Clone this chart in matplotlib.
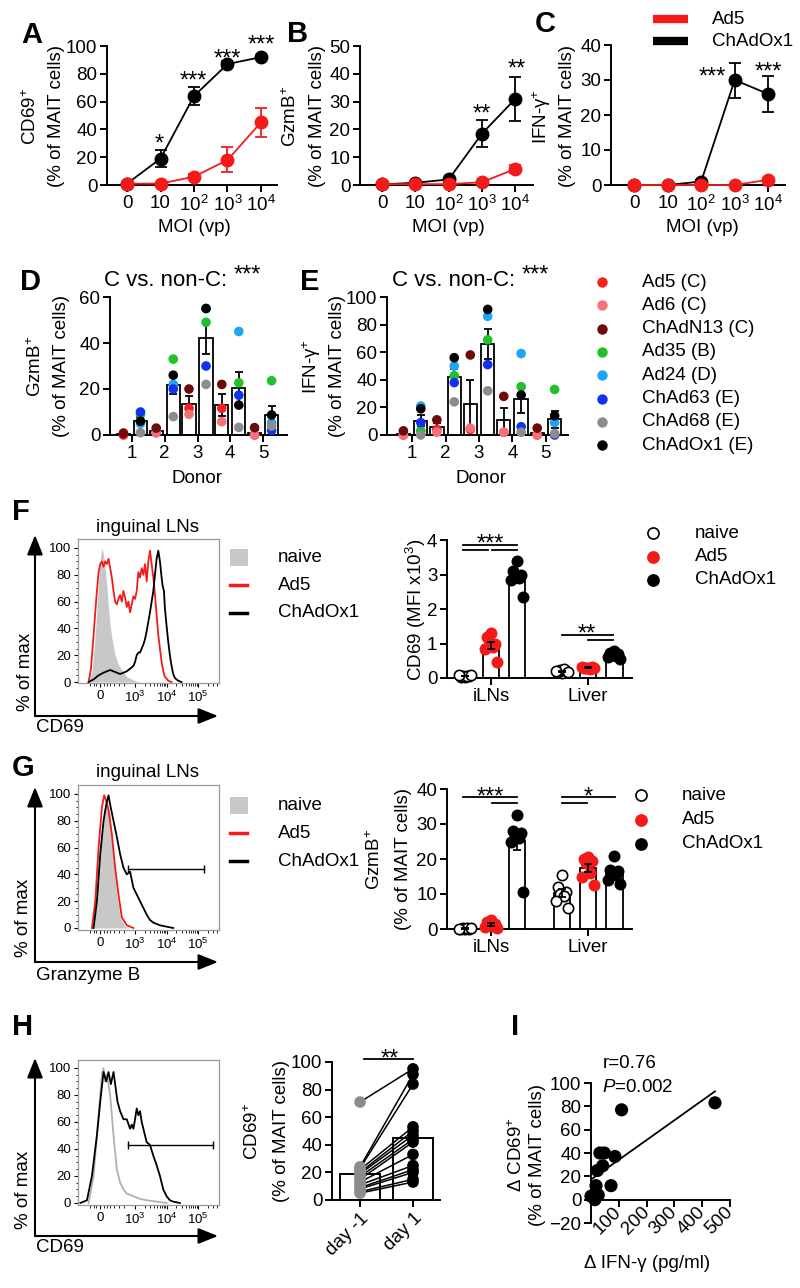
import numpy as np
import matplotlib
matplotlib.use('Agg')
import matplotlib.pyplot as plt
from matplotlib.patches import FancyArrowPatch, Rectangle
from matplotlib.lines import Line2D

plt.rcParams['font.family'] = ['Liberation Sans', 'DejaVu Sans']
plt.rcParams['mathtext.fontset'] = 'custom'
plt.rcParams['mathtext.rm'] = 'Liberation Sans'
plt.rcParams['mathtext.it'] = 'Liberation Sans:italic'
plt.rcParams['mathtext.default'] = 'regular'

RED = '#f51a1a'
FS = 13.5
STAR = 17

# ---- A-C: MOI titration ----
moi_labels = ['0', '10', '$10^2$', '$10^3$', '$10^4$']
cd69_ad5 = [1, 1, 6, 18, 45]
cd69_ad5_err = [0.5, 0.5, 2, 9, 10.5]
cd69_chad = [1, 19, 64, 87, 92]
cd69_chad_err = [0.5, 6, 6.5, 2, 1.5]
gzmb_ad5 = [0.3, 0.3, 0.3, 1, 5.8]
gzmb_ad5_err = [0, 0, 0, 0.3, 1.5]
gzmb_chad = [0.2, 0.8, 2, 18.5, 31]
gzmb_chad_err = [0.1, 0.3, 0.5, 5, 8]
ifng_ad5 = [0, 0, 0, 0, 1.5]
ifng_ad5_err = [0, 0, 0, 0, 0.5]
ifng_chad = [0, 0, 1, 30, 26]
ifng_chad_err = [0, 0, 0.3, 5, 5.2]

# ---- D-E: viruses x donors ----
viruses = ['Ad5 (C)', 'Ad6 (C)', 'ChAdN13 (C)', 'Ad35 (B)', 'Ad24 (D)',
           'ChAd63 (E)', 'ChAd68 (E)', 'ChAdOx1 (E)']
virus_colors = ['#f52020', '#f4717c', '#6e0a0a', '#22c02a', '#1ea6f2',
                '#1232f0', '#8c8c8c', '#000000']
gzmb_donor = [[0, 1, 11.6, 11.6, 0],
              [1, 1, 9, 5.8, 0],
              [0.7, 3, 20, 22, 3.2],
              [9, 33, 49, 22.7, 23.6],
              [5, 22, 55, 45, 5.3],
              [10, 20, 30, 17.3, 2],
              [1, 8, 22, 3.3, 3.9],
              [6, 26, 55, 13, 8.7]]
ifng_donor = [[0, 4, 4, 2, 0],
              [0, 2, 5, 2, 0],
              [3, 11, 58, 28, 5],
              [3, 43, 69, 35, 33],
              [21, 50, 86, 59, 9],
              [9, 38, 51, 6, 0],
              [0, 24, 32, 2, 1],
              [19, 56, 91, 29, 14]]

# ---- F-G: mouse organs ----
cd69_iln = [[0.02, 0.04, 0.05, 0.06, 0.07, 0.08, 0.1],
            [1.3, 1.2, 1.0, 0.95, 0.9, 0.85, 0.45],
            [3.4, 3.1, 3.0, 2.95, 2.9, 2.85, 2.35]]
cd69_liver = [[0.15, 0.18, 0.2, 0.22, 0.25, 0.2, 0.17],
              [0.28, 0.3, 0.32, 0.3, 0.27, 0.33, 0.29],
              [0.78, 0.72, 0.7, 0.68, 0.65, 0.6, 0.55]]
gzmb_iln = [[0, 0, 0.1, 0.2, 0.3, 0.1, 0.2],
            [2.5, 2.0, 1.5, 1.2, 0.8, 0.6, 0.4],
            [32.5, 28, 27.5, 27, 26, 25, 10.5]]
gzmb_liver = [[15.5, 12, 10.5, 10, 9.5, 8, 6],
              [20.5, 20, 19.5, 19, 16, 15, 12.5],
              [21, 17, 16.5, 16, 15.5, 14, 13]]
groups3 = ['naive', 'Ad5', 'ChAdOx1']

# ---- histograms (channel on display scale, % of max) ----
hist_ticks = [67, 172, 267, 362]
hist_tick_labels = ['0', '$10^3$', '$10^4$', '$10^5$']
F_naive_ch = [32, 42, 52, 62, 67, 72, 77, 82, 87, 92, 97, 102, 112, 122, 132, 147, 167, 187]
F_naive_pct = [0, 8, 35, 75, 92, 100, 95, 85, 72, 55, 42, 33, 20, 13, 9, 4, 1.5, 0]
F_ad5_ch = [32, 39, 47, 55, 62, 67, 72, 77, 82, 87, 92, 97, 102, 107, 112, 117, 122, 127, 132, 137,
            142, 147, 152, 157, 162, 167, 172, 177, 182, 187, 192, 197, 202, 207, 212, 217, 222, 227,
            232, 237, 242, 247, 252, 257, 262, 272, 282]
F_ad5_pct = [0, 10, 35, 62, 82, 88, 90, 86, 90, 88, 92, 85, 78, 68, 60, 58, 62, 65, 60, 68,
             63, 56, 60, 52, 58, 64, 62, 68, 82, 78, 85, 80, 88, 75, 90, 98, 88, 78,
             65, 50, 35, 25, 15, 8, 4, 1, 0]
F_chad_ch = [32, 47, 62, 77, 87, 97, 107, 117, 127, 137, 147, 157, 167, 172, 177, 182, 187, 192, 197, 202,
             207, 212, 217, 222, 227, 232, 237, 242, 247, 252, 255, 259, 262, 267, 272, 277, 282, 287,
             292, 302, 312]
F_chad_pct = [0, 2, 5, 7, 8, 9, 8, 7, 6, 7, 8, 10, 12, 15, 20, 22, 22, 25, 28, 32,
              38, 45, 52, 60, 68, 80, 92, 98, 90, 78, 72, 68, 55, 42, 30, 20, 12, 6,
              3, 1, 0]
G_naive_ch = [47, 57, 67, 77, 87, 97, 107, 117, 127, 142, 157]
G_naive_pct = [0, 20, 60, 85, 95, 85, 55, 25, 8, 1, 0]
G_ad5_ch = [42, 52, 62, 72, 79, 85, 92, 102, 112, 122, 132, 147, 167]
G_ad5_pct = [0, 20, 60, 90, 99, 95, 88, 70, 45, 25, 8, 2, 0]
G_chad_ch = [47, 57, 67, 77, 85, 92, 97, 107, 117, 127, 137, 147, 157, 167, 177, 187, 197, 207,
             217, 227, 247, 267, 287]
G_chad_pct = [0, 20, 55, 80, 92, 99, 92, 80, 68, 55, 45, 40, 42, 30, 25, 20, 15, 10,
              6, 4, 2, 1, 0]
H_pre_ch = [32, 47, 57, 67, 72, 77, 82, 87, 97, 107, 117, 127, 137, 147, 167, 187, 207, 237, 267]
H_pre_pct = [0, 20, 50, 80, 95, 100, 90, 95, 80, 50, 25, 15, 10, 7, 5, 3, 2, 1, 0]
H_post_ch = [7, 27, 42, 57, 67, 77, 85, 92, 99, 107, 112, 119, 127, 137, 147, 157, 162, 167, 172, 177,
             182, 187, 192, 197, 207, 217, 227, 237, 247, 257, 267, 277, 287, 307]
H_post_pct = [0, 2, 20, 50, 75, 97, 90, 97, 88, 97, 88, 75, 68, 62, 62, 55, 58, 55, 62, 70,
              65, 68, 60, 55, 45, 43, 35, 28, 20, 10, 5, 2, 1, 0]
G_gate = (151, 380, 44)
H_gate = (151, 407, 43)

# ---- H-I: human challenge ----
cd69_day_m1 = [71, 24, 23, 22, 20, 19, 17, 15, 13, 11, 9, 8, 6, 5]
cd69_day_1 = [95, 91, 84, 53, 50, 47, 44, 42, 33, 25, 22, 20, 15, 13]
d_ifng = [446, 110, 32, 48, 86, 42, 23, 18, 72, 0, 26, 14]
d_cd69 = [83, 77, 40, 40, 37, 29, 25, 12, 12, 3, 4, 0]

W, H = 800, 1288
fig = plt.figure(figsize=(8, 12.88), dpi=100)


def axpx(l, t, r, b):
    return fig.add_axes([l / W, 1 - b / H, (r - l) / W, (b - t) / H])


def ftxt(x, y, s, **kw):
    kw.setdefault('fontsize', FS)
    return fig.text(x / W, 1 - y / H, s, **kw)


def clean(ax):
    ax.spines['top'].set_visible(False)
    ax.spines['right'].set_visible(False)
    for sp in ('left', 'bottom'):
        ax.spines[sp].set_linewidth(1.4)
    ax.tick_params(direction='out', length=5, width=1.4, labelsize=FS, pad=2)


def arrow(x1, y1, x2, y2):
    fig.add_artist(FancyArrowPatch((x1 / W, 1 - y1 / H), (x2 / W, 1 - y2 / H),
                                   transform=fig.transFigure,
                                   arrowstyle='-|>,head_length=0.75,head_width=0.3',
                                   mutation_scale=16, lw=1.5, color='k',
                                   shrinkA=0, shrinkB=0))


def ylab2(x1, x2, y, top, bottom):
    ftxt(x1, y, top, rotation=90, ha='center', va='center')
    ftxt(x2, y, bottom, rotation=90, ha='center', va='center')


# panel letters
for s, x, y in [('A', 21, 43), ('B', 287, 42), ('C', 535, 32), ('D', 20, 290),
                ('E', 300, 290), ('F', 12, 520), ('G', 12, 776), ('H', 12, 1035),
                ('I', 511, 1035)]:
    ftxt(x, y, s, fontsize=21, fontweight='bold', ha='left', va='baseline')


# ---------- A-C ----------
def moi_panel(ax, ad5, ad5_err, chad, chad_err, ymax, ystep, stars):
    x = np.arange(5)
    for y, e, c in ((chad, chad_err, 'k'), (ad5, ad5_err, RED)):
        ax.errorbar(x, y, yerr=e, fmt='none', ecolor=c, elinewidth=1.3,
                    capsize=4.5, capthick=1.3, zorder=2)
        ax.plot(x, y, '-o', color=c, lw=1.3, ms=9, clip_on=False, zorder=3)
    for s, sx, sy in stars:
        ax.text(sx, sy, s, ha='center', va='baseline', fontsize=STAR)
    ax.set_ylim(0, ymax)
    ax.set_yticks(np.arange(0, ymax + 1, ystep))
    ax.set_xticks(x)
    ax.set_xticklabels(moi_labels)
    clean(ax)


axA = axpx(107, 46, 277, 185)
axA.set_xlim(-0.6, 4.48)
moi_panel(axA, cd69_ad5, cd69_ad5_err, cd69_chad, cd69_chad_err, 100, 20,
          [('*', 0.96, 24.7), ('***', 1.97, 70.1), ('***', 3.0, 85.9), ('***', 4.0, 96.0)])
axB = axpx(360, 46, 533, 185)
axB.set_xlim(-0.66, 4.53)
moi_panel(axB, gzmb_ad5, gzmb_ad5_err, gzmb_chad, gzmb_chad_err, 50, 10,
          [('**', 3.0, 23.2), ('**', 4.03, 39.4)])
axC = axpx(611, 45, 785, 185)
axC.set_xlim(-0.69, 4.5)
moi_panel(axC, ifng_ad5, ifng_ad5_err, ifng_chad, ifng_chad_err, 40, 10,
          [('***', 2.33, 29.0), ('***', 4.0, 30.4)])

ylab2(31, 57, 116, 'CD69$^{+}$', '(% of MAIT cells)')
ylab2(291, 317, 116, 'GzmB$^{+}$', '(% of MAIT cells)')
ylab2(542, 568, 116, 'IFN-γ$^{+}$', '(% of MAIT cells)')
for x in (194, 448, 702):
    ftxt(x, 228, 'MOI (vp)', ha='center', va='center')

for c, lab, y in ((RED, 'Ad5', 19), ('k', 'ChAdOx1', 41)):
    fig.add_artist(Line2D([653 / W, 688 / W], [1 - y / H, 1 - y / H],
                          transform=fig.transFigure, color=c, lw=6, solid_capstyle='butt'))
    ftxt(712, y, lab, ha='left', va='center')


# ---------- D-E ----------
def donor_panel(ax, vals, ymax, ystep):
    vals = np.asarray(vals, float)
    for d in range(5):
        for idx, off in ((list(range(0, 3)), -0.26), (list(range(3, 8)), 0.26)):
            v = vals[idx, d]
            xp = d + 1 + off
            m = v.mean()
            sem = v.std(ddof=1) / np.sqrt(len(v))
            ax.bar(xp, m, width=0.4, facecolor='white', edgecolor='k', linewidth=1.3, zorder=1)
            ax.errorbar(xp, m, yerr=sem, fmt='none', ecolor='k', elinewidth=1.3,
                        capsize=3, capthick=1.3, zorder=2)
            ax.scatter(np.full(len(v), xp), v, c=[virus_colors[i] for i in idx], s=48,
                       edgecolors='none', zorder=3, clip_on=False)
    ax.set_ylim(0, ymax)
    ax.set_yticks(np.arange(0, ymax + 1, ystep))
    ax.set_xticks(range(1, 6))
    clean(ax)


axD = axpx(110, 297, 287, 435)
axD.set_xlim(0.33, 5.73)
donor_panel(axD, gzmb_donor, 60, 20)
axE = axpx(387, 297, 568, 435)
axE.set_xlim(0.25, 5.66)
donor_panel(axE, ifng_donor, 100, 20)
ylab2(36, 62, 366, 'GzmB$^{+}$', '(% of MAIT cells)')
ylab2(312, 338, 366, 'IFN-γ$^{+}$', '(% of MAIT cells)')
ftxt(197, 478, 'Donor', ha='center', va='center')
ftxt(481, 478, 'Donor', ha='center', va='center')
for x0 in (104, 392):
    t = ftxt(x0, 280, 'C vs. non-C:', ha='left', va='center', fontsize=16)
ftxt(247, 281.6, '***', ha='center', va='baseline', fontsize=STAR)
ftxt(535, 281.6, '***', ha='center', va='baseline', fontsize=STAR)
for i, (lab, col) in enumerate(zip(viruses, virus_colors)):
    y = 282 + 23.3 * i
    fig.add_artist(Line2D([602 / W], [1 - y / H], transform=fig.transFigure,
                          marker='o', ms=7.5, color=col, mec='none', ls='none'))
    ftxt(642, y, lab, ha='left', va='center')


# ---------- histograms ----------
def hist_panel(ax, ylo, yhi):
    ax.set_xlim(0, 425)
    ax.set_ylim(ylo, yhi)
    for sp in ax.spines.values():
        sp.set_color('#9a9a9a')
        sp.set_linewidth(0.9)
    ax.set_xticks(hist_ticks)
    ax.set_xticklabels(hist_tick_labels)
    minor = [36, 47, 55, 79, 87, 95, 110, 125, 140]
    for d0 in (172, 267, 362):
        minor += [d0 + 95 * np.log10(k) for k in range(2, 10) if d0 + 95 * np.log10(k) < 425]
    ax.set_xticks(minor, minor=True)
    ax.set_yticks(range(0, 101, 20))
    ax.set_yticks(range(0, 101, 5), minor=True)
    ax.tick_params(which='major', direction='out', length=3, width=0.8, labelsize=9.5, pad=2)
    ax.tick_params(which='minor', direction='out', length=1.8, width=0.6)


def hist_legend(y0):
    fig.add_artist(Rectangle((230 / W, 1 - (y0 + 9) / H), 18 / W, 17 / H,
                             transform=fig.transFigure, facecolor='#c8c8c8', edgecolor='none'))
    for c, dy in ((RED, 28), ('k', 56)):
        fig.add_artist(Line2D([230 / W, 247 / W], [1 - (y0 + dy) / H] * 2,
                              transform=fig.transFigure, color=c, lw=2.5))
    for lab, dy in (('naive', 0), ('Ad5', 28), ('ChAdOx1', 56)):
        ftxt(278, y0 + dy, lab, ha='left', va='center')


axFh = axpx(78, 539, 219, 683)
hist_panel(axFh, -0.7, 106.7)
axFh.fill_between(F_naive_ch, F_naive_pct, color='#c8c8c8', lw=0)
axFh.plot(F_ad5_ch, F_ad5_pct, color=RED, lw=1.3)
axFh.plot(F_chad_ch, F_chad_pct, color='k', lw=1.3)
ftxt(148, 527, 'inguinal LNs', ha='center', va='center')
hist_legend(557)
arrow(35, 716, 35, 535)
arrow(35, 716, 218, 716)
ftxt(25, 672, '% of max', rotation=90, ha='center', va='center')
ftxt(36, 727, 'CD69', ha='left', va='center')

axGh = axpx(78, 785, 219, 930)
hist_panel(axGh, -1.5, 106.7)
axGh.fill_between(G_naive_ch, G_naive_pct, color='#c8c8c8', lw=0)
axGh.plot(G_ad5_ch, G_ad5_pct, color=RED, lw=1.3)
axGh.plot(G_chad_ch, G_chad_pct, color='k', lw=1.3)
axGh.plot(G_gate[:2], [G_gate[2]] * 2, color='k', lw=1, marker='|', ms=6)
ftxt(148, 773, 'inguinal LNs', ha='center', va='center')
hist_legend(805)
arrow(35, 962, 35, 787)
arrow(35, 962, 218, 962)
ftxt(24, 918, '% of max', rotation=90, ha='center', va='center')
ftxt(36, 975, 'Granzyme B', ha='left', va='center')

axHh = axpx(78, 1060, 219, 1205)
hist_panel(axHh, -1.5, 105.9)
axHh.plot(H_pre_ch, H_pre_pct, color='#b0b0b0', lw=1.3)
axHh.plot(H_post_ch, H_post_pct, color='k', lw=1.3)
axHh.plot(H_gate[:2], [H_gate[2]] * 2, color='k', lw=1, marker='|', ms=6)
arrow(35, 1236, 35, 1058)
arrow(35, 1236, 218, 1236)
ftxt(24, 1190, '% of max', rotation=90, ha='center', va='center')
ftxt(36, 1248, 'CD69', ha='left', va='center')


# ---------- F-G bar charts ----------
def organ_panel(ax, iln, liver, ymax, ystep):
    pos = [0, 1, 2, 3.73, 4.73, 5.73]
    styles = [('white', 'k'), (RED, RED), ('k', 'k')] * 2
    offs = np.array([0, -0.17, 0.17, -0.09, 0.09, -0.24, 0.24])
    for p, v, (fc, ec) in zip(pos, iln + liver, styles):
        v = np.asarray(v, float)
        m = v.mean()
        sem = v.std(ddof=1) / np.sqrt(len(v))
        ax.bar(p, m, width=0.65, facecolor='white', edgecolor='k', linewidth=1.3, zorder=1)
        ax.scatter(p + offs[:len(v)], v, s=55, facecolors=fc, edgecolors=ec,
                   linewidths=1.2, zorder=3, clip_on=False)
        ax.errorbar(p, m, yerr=sem, fmt='none', ecolor='k', elinewidth=1.3,
                    capsize=3, capthick=1.3, zorder=4)
    ax.set_xlim(-0.69, 6.42)
    ax.set_ylim(0, ymax)
    ax.set_yticks(np.arange(0, ymax + 1, ystep))
    ax.set_xticks([1, 4.73])
    ax.set_xticklabels(['iLNs', 'Liver'])
    clean(ax)


def sig(ax, x1, x2, y):
    ax.plot([x1, x2], [y, y], color='k', lw=1.3, clip_on=False)


axFb = axpx(447, 540, 632, 678)
organ_panel(axFb, cd69_iln, cd69_liver, 4, 1)
sig(axFb, -0.08, 2.0, 3.86)
sig(axFb, -0.08, 0.88, 3.71)
sig(axFb, 1.04, 2.0, 3.71)
axFb.text(0.96, 3.69, '***', ha='center', va='baseline', fontsize=STAR)
sig(axFb, 3.73, 5.69, 1.25)
sig(axFb, 4.73, 5.69, 1.10)
axFb.text(4.69, 1.08, '**', ha='center', va='baseline', fontsize=STAR)
ftxt(416, 610, 'CD69 (MFI x10$^{3}$)', rotation=90, ha='center', va='center')

axGb = axpx(447, 789, 632, 929)
organ_panel(axGb, gzmb_iln, gzmb_liver, 40, 10)
sig(axGb, -0.08, 2.0, 37.7)
sig(axGb, 1.04, 2.0, 36.0)
axGb.text(0.96, 35.8, '***', ha='center', va='baseline', fontsize=STAR)
sig(axGb, 3.73, 5.77, 37.7)
sig(axGb, 3.73, 4.69, 36.0)
axGb.text(4.73, 35.8, '*', ha='center', va='baseline', fontsize=STAR)
ylab2(375, 404, 859, 'GzmB$^{+}$', '(% of MAIT cells)')


def organ_legend(x0, xt, y0, dy):
    for i, (lab, fc, ec) in enumerate(zip(groups3, ['white', RED, 'k'], ['k', RED, 'k'])):
        y = y0 + dy * i
        fig.add_artist(Line2D([x0 / W], [1 - y / H], transform=fig.transFigure, marker='o',
                              ms=8, mfc=fc, mec=ec, mew=1.2, ls='none'))
        ftxt(xt, y, lab, ha='left', va='center')


organ_legend(653, 695, 533, 23.5)
organ_legend(641, 682, 795, 24.5)

# ---------- H bar ----------
axHb = axpx(332, 1062, 440, 1200)
axHb.bar([0, 1], [np.mean(cd69_day_m1), np.mean(cd69_day_1)], width=0.77,
         facecolor='white', edgecolor='k', linewidth=1.4, zorder=1)
for a, b in zip(cd69_day_m1, cd69_day_1):
    axHb.plot([0, 1], [a, b], color='k', lw=1.1, zorder=2)
axHb.scatter(np.zeros(len(cd69_day_m1)), cd69_day_m1, s=70, color='#8c8c8c', zorder=3,
             edgecolors='none', clip_on=False)
axHb.scatter(np.ones(len(cd69_day_1)), cd69_day_1, s=70, color='k', zorder=3,
             edgecolors='none', clip_on=False)
axHb.set_xlim(-0.53, 1.51)
axHb.set_ylim(0, 100)
axHb.set_yticks(range(0, 101, 20))
axHb.set_xticks([0, 1])
axHb.set_xticklabels(['day -1', 'day 1'], rotation=45, ha='right', rotation_mode='anchor')
clean(axHb)
sig(axHb, 0.08, 1.0, 102.2)
axHb.text(0.57, 97.4, '**', ha='center', va='baseline', fontsize=STAR)
ylab2(253, 282, 1131, 'CD69$^{+}$', '(% of MAIT cells)')

# ---------- I scatter ----------
axI = axpx(591, 1083, 730, 1223)
clean(axI)
axI.spines['bottom'].set_position(('data', 0))
axI.scatter(d_ifng, d_cd69, s=90, color='k', edgecolors='none', zorder=3, clip_on=False)
slope, icpt = np.polyfit(d_ifng, d_cd69, 1)
xl = np.array([0, max(d_ifng)])
axI.plot(xl, icpt + slope * xl, color='k', lw=1.3)
axI.set_xlim(0, 500)
axI.set_ylim(-20, 100)
axI.set_yticks(range(-20, 101, 20))
axI.set_xticks(range(100, 501, 100))
axI.set_xticklabels([str(v) for v in range(100, 501, 100)], rotation=45, ha='right',
                    va='center', rotation_mode='anchor')
axI.tick_params(direction='out', length=5, width=1.4, labelsize=FS, pad=2)
ylab2(517, 538, 1155, 'Δ CD69$^{+}$', '(% of MAIT cells)')
ftxt(647, 1263, 'Δ IFN-γ (pg/ml)', ha='center', va='center')
ftxt(630, 1063, 'r=0.76', ha='center', va='center')
ftxt(638, 1088, r'$\mathit{P}$=0.002', ha='center', va='center')

fig.savefig('out.png', dpi=100)
